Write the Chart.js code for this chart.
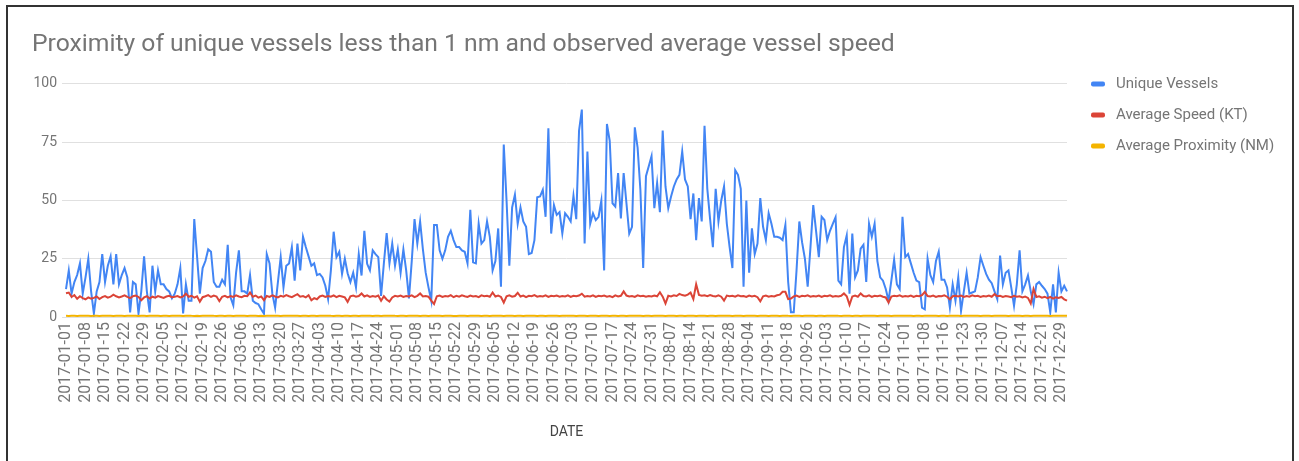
<!DOCTYPE html>
<html>
<head>
<meta charset="utf-8">
<script src="https://cdn.jsdelivr.net/npm/chart.js@4.4.0/dist/chart.umd.min.js"></script>
<style>
  html, body { margin: 0; padding: 0; background: #fff; }
  #wrap { position: relative; width: 1299px; height: 461px; overflow: hidden; }
  #frame { position: absolute; left: 6px; top: 5px; width: 1288px; height: 520px; border: 2px solid #333; box-sizing: border-box; }
  #grafico { position: absolute; left: 0; top: 0; }
</style>
</head>
<body>
<div id="wrap">
  <div id="frame"></div>
  <canvas id="grafico" width="1299" height="461"></canvas>
</div>
<script>
const titulo = "Proximity of unique vessels less than 1 nm and observed average vessel speed";
const nombresSeries = ["Unique Vessels", "Average Speed (KT)", "Average Proximity (NM)"];
const coloresSeries = ["#4285f4", "#db4437", "#f4b400"];

// Dias sin registro en el archivo original
const fechasFaltantes = ["2017-03-02", "2017-09-22", "2017-10-28", "2017-11-12", "2017-12-25"];
const yTicks = [0, 25, 50, 75, 100];

const uniqueVessels = [
  12, 20, 10, 15, 18, 23, 10, 17, 25, 11,
  1.5, 11, 15, 27, 15, 22, 26, 14, 27, 14,
  18, 21, 17, 2, 15, 14, 1.5, 11, 26, 11,
  2, 22, 11, 20, 14, 14, 12, 11, 8, 10,
  14, 21, 1.5, 14, 7, 7, 42, 26, 10, 21,
  24, 29, 28, 15, 13, 13, 16, 14, 31, 8.4,
  5, 19, 28.6, 11, 11, 10, 18, 7, 6, 5.5,
  3.3, 1.4, 27, 23, 10, 4, 15, 25.7, 12.7, 22,
  23, 30, 15.6, 31.5, 20, 34.4, 30, 26, 22, 23,
  18, 18.5, 17, 13.4, 7.7, 20, 36.6, 25.7, 28, 18.5,
  25, 18.8, 15, 19, 12.7, 27, 17.8, 37, 22.8, 20,
  28.6, 27, 25.7, 9, 23, 36, 23, 31.5, 22, 29,
  19, 29, 20, 8, 24, 42, 31.5, 41, 29, 19,
  12.7, 7, 39.5, 39.5, 28.6, 25, 28.6, 34.4, 37, 33,
  30, 30, 28.6, 28, 23, 46, 23.5, 23, 40, 31.5,
  33, 41, 34.4, 20, 24, 38, 13, 74, 50, 22,
  47, 52.5, 40, 47, 41, 38.7, 27, 27.5, 33, 51.4,
  51.7, 54.6, 43, 81, 35.8, 48, 43.8, 45, 35.8, 44.5,
  43, 41, 52, 42, 80, 89, 31.5, 71, 40, 44.5,
  41.6, 43, 50, 20, 82.8, 75.6, 48.8, 47.4, 61.8, 42.3,
  61.8, 48.8, 35.8, 38.7, 81.4, 72.7, 54.6, 21, 60.4, 64.7,
  69, 46.7, 57.5, 45, 80, 56, 46.7, 51.7, 56, 59,
  61, 71, 59, 56, 42, 53, 33, 51, 41, 82,
  55, 42, 30, 55, 41, 50, 56, 40, 30, 21,
  63, 61, 55, 13, 50, 19, 38, 27, 31.5, 51,
  38.7, 33, 44.5, 40, 34.4, 34.4, 34, 33, 39.5, 15,
  2, 2, 20, 41, 32, 25, 13, 30, 48, 37,
  25.7, 43, 41.6, 33, 37, 40, 42.8, 15.6, 14, 30,
  35, 10, 35.8, 17, 20, 29.3, 31, 15, 40, 34.4,
  40, 24, 17, 15.6, 12, 7, 15.6, 24.6, 14, 12,
  43, 25.7, 27, 23, 19, 15.6, 15, 4, 3.3, 25,
  18, 15, 24, 28, 16, 16, 12.7, 4, 14, 7,
  17, 2.6, 11, 19, 10, 10.5, 11, 17, 25.7, 22,
  18.5, 16, 14.5, 11, 7.7, 26.4, 14, 19, 20, 12.7,
  4.8, 14, 28.6, 11, 14, 17.8, 11, 5.5, 14, 15,
  13.4, 12, 10, 2, 14, 2, 19, 11, 13.4, 11
];

const avgSpeed = [
  10.2, 10.5, 8.6, 9.4, 7.8, 8.9, 8.1, 7.6, 8.4, 7.9,
  8.2, 8.8, 7.7, 8.5, 9.0, 8.3, 8.7, 9.6, 8.9, 8.4,
  8.8, 9.3, 8.6, 8.1, 8.9, 9.2, 8.6, 7.2, 8.4, 8.9,
  7.9, 8.7, 8.3, 9.0, 8.6, 8.2, 8.8, 9.1, 8.5, 8.7,
  9.0, 8.4, 8.8, 10.0, 8.7, 9.1, 8.3, 8.9, 6.6, 8.5,
  8.9, 9.4, 8.6, 9.2, 8.8, 6.8, 8.7, 9.1, 8.4, 9.0,
  8.6, 9.3, 8.8, 8.5, 9.1, 8.9, 10.5, 8.7, 9.2, 8.3,
  8.8, 7.2, 9.0, 8.6, 9.3, 8.8, 8.4, 9.1, 8.7, 9.4,
  8.9, 8.5, 9.2, 9.8, 8.7, 9.0, 8.4, 9.3, 7.2, 8.1,
  7.6, 8.8, 9.2, 8.6, 9.0, 8.7, 9.3, 8.5, 9.1, 8.8,
  8.4, 6.5, 8.9, 9.2, 8.7, 9.0, 10.1, 8.8, 9.3, 8.6,
  9.0, 8.7, 9.2, 7.0, 8.9, 7.5, 6.6, 8.4, 9.1, 8.8,
  9.2, 8.6, 9.0, 8.8, 9.3, 8.5, 9.1, 10.1, 8.8, 9.0,
  8.7, 7.0, 5.6, 8.9, 9.2, 8.6, 9.0, 8.8, 9.4, 8.5,
  9.1, 8.7, 9.3, 8.9, 8.6, 9.2, 8.8, 9.0, 8.5, 9.3,
  8.9, 9.1, 8.7, 10.5, 8.8, 9.2, 8.6, 6.2, 8.9, 9.3,
  8.7, 9.0, 10.4, 8.8, 9.2, 8.5, 9.1, 8.9, 9.4, 8.7,
  9.0, 8.8, 9.3, 8.6, 9.1, 8.9, 9.2, 8.7, 9.0, 8.8,
  9.3, 8.6, 9.1, 8.9, 9.2, 10.0, 8.7, 9.0, 8.8, 9.3,
  8.6, 9.1, 8.9, 9.2, 8.7, 9.0, 8.5, 9.3, 8.8, 9.1,
  11.0, 9.2, 8.8, 9.0, 8.6, 9.3, 8.9, 9.1, 8.7, 9.0,
  8.8, 9.2, 8.9, 10.6, 8.7, 5.8, 9.1, 8.8, 9.3, 9.0,
  9.9, 9.4, 9.1, 9.6, 10.5, 7.7, 14.0, 9.5, 9.1, 9.3,
  8.9, 9.4, 9.0, 8.8, 9.3, 8.7, 7.0, 9.2, 8.9, 9.1,
  8.7, 9.3, 8.9, 9.0, 8.6, 9.2, 8.8, 9.1, 8.5, 6.7,
  8.9, 9.2, 8.7, 9.0, 8.8, 9.3, 9.6, 10.8, 10.8, 7.7,
  7.9, 8.8, 9.2, 8.6, 9.1, 8.9, 9.3, 8.7, 9.0, 8.8,
  9.2, 8.6, 9.1, 8.9, 9.3, 8.7, 9.0, 8.8, 9.1, 10.1,
  8.9, 5.2, 8.8, 9.2, 8.7, 10.1, 9.0, 8.8, 9.3, 8.6,
  9.1, 8.9, 9.2, 8.7, 8.4, 6.2, 8.8, 9.1, 8.9, 9.3,
  8.7, 9.0, 8.8, 9.2, 8.6, 9.1, 8.9, 9.4, 10.8, 9.0,
  8.8, 9.2, 8.6, 9.0, 8.9, 9.3, 8.7, 7.6, 8.9, 9.1,
  8.8, 9.2, 8.6, 9.0, 8.7, 9.3, 8.9, 9.1, 8.6, 9.0,
  8.8, 9.2, 8.7, 9.8, 8.9, 9.1, 8.6, 9.0, 8.8, 8.5,
  9.1, 8.7, 8.9, 8.4, 8.8, 8.2, 5.8, 12.0, 8.6, 8.9,
  8.3, 8.7, 8.1, 8.6, 7.9, 8.5, 8.2, 8.6, 7.6, 7.0
];

const avgProximity = [
  0.52, 0.48, 0.55, 0.50, 0.46, 0.53, 0.58, 0.49, 0.51, 0.47, 0.54, 0.50, 0.45, 0.52, 0.56, 0.49, 0.53, 0.48, 0.51, 0.55,
  0.50, 0.47, 0.53, 0.49, 0.52, 0.56, 0.48, 0.51, 0.54, 0.46, 0.50, 0.53, 0.49, 0.55, 0.47, 0.52, 0.50, 0.48, 0.54, 0.51,
  0.49, 0.53, 0.46, 0.52, 0.55, 0.50, 0.48, 0.51, 0.47, 0.54, 0.52, 0.49, 0.56, 0.50, 0.48, 0.53, 0.51, 0.46, 0.52, 0.55,
  0.48, 0.51, 0.54, 0.49, 0.52, 0.47, 0.53, 0.50, 0.55, 0.48, 0.51, 0.46, 0.52, 0.54, 0.49, 0.50, 0.53, 0.47, 0.51, 0.56,
  0.53, 0.49, 0.51, 0.55, 0.47, 0.52, 0.50, 0.48, 0.54, 0.51, 0.46, 0.53, 0.49, 0.52, 0.57, 0.50, 0.48, 0.51, 0.53, 0.47,
  0.51, 0.54, 0.48, 0.50, 0.53, 0.46, 0.52, 0.55, 0.49, 0.51, 0.47, 0.53, 0.50, 0.48, 0.54, 0.52, 0.49, 0.56, 0.50, 0.47,
  0.55, 0.50, 0.47, 0.52, 0.49, 0.53, 0.51, 0.46, 0.54, 0.50, 0.48, 0.52, 0.55, 0.49, 0.51, 0.47, 0.53, 0.50, 0.52, 0.48,
  0.47, 0.52, 0.50, 0.54, 0.48, 0.51, 0.55, 0.49, 0.53, 0.46, 0.52, 0.50, 0.48, 0.54, 0.51, 0.49, 0.53, 0.47, 0.55, 0.50,
  0.52, 0.48, 0.53, 0.50, 0.46, 0.54, 0.49, 0.51, 0.56, 0.48, 0.50, 0.53, 0.47, 0.52, 0.49, 0.55, 0.51, 0.48, 0.53, 0.50,
  0.49, 0.54, 0.51, 0.47, 0.52, 0.50, 0.55, 0.48, 0.53, 0.49, 0.51, 0.46, 0.54, 0.50, 0.52, 0.48, 0.53, 0.51, 0.47, 0.55,
  0.51, 0.47, 0.53, 0.50, 0.55, 0.49, 0.52, 0.48, 0.54, 0.50, 0.46, 0.53, 0.51, 0.49, 0.56, 0.48, 0.52, 0.50, 0.54, 0.47,
  0.50, 0.53, 0.48, 0.52, 0.49, 0.55, 0.47, 0.51, 0.53, 0.50, 0.48, 0.54, 0.52, 0.46, 0.51, 0.49, 0.55, 0.50, 0.53, 0.48,
  0.54, 0.49, 0.52, 0.47, 0.51, 0.53, 0.50, 0.56, 0.48, 0.52, 0.49, 0.51, 0.47, 0.54, 0.50, 0.53, 0.48, 0.52, 0.55, 0.49,
  0.48, 0.52, 0.55, 0.50, 0.47, 0.53, 0.49, 0.51, 0.54, 0.48, 0.52, 0.50, 0.46, 0.53, 0.51, 0.49, 0.55, 0.50, 0.48, 0.52,
  0.53, 0.50, 0.48, 0.54, 0.51, 0.47, 0.52, 0.49, 0.55, 0.50, 0.53, 0.48, 0.51, 0.56, 0.49, 0.52, 0.47, 0.50, 0.54, 0.51,
  0.50, 0.55, 0.49, 0.52, 0.48, 0.51, 0.53, 0.47, 0.50, 0.54, 0.49, 0.52, 0.55, 0.48, 0.51, 0.50, 0.46, 0.53, 0.49, 0.52,
  0.52, 0.48, 0.51, 0.53, 0.50, 0.56, 0.49, 0.52, 0.47, 0.51, 0.54, 0.50, 0.48, 0.53, 0.49, 0.52, 0.50, 0.55, 0.47, 0.51,
  0.49, 0.53, 0.50, 0.47, 0.54, 0.51, 0.48, 0.52, 0.50, 0.55, 0.49, 0.51, 0.53, 0.48, 0.52, 0.50, 0.54, 0.49, 0.51, 0.50
];

// Genera las fechas diarias de 2017 quitando los dias faltantes
const fechas = [];
for (let d = new Date(Date.UTC(2017, 0, 1)); d.getUTCFullYear() === 2017; d.setUTCDate(d.getUTCDate() + 1)) {
    const f = d.toISOString().slice(0, 10);
    if (!fechasFaltantes.includes(f)) fechas.push(f);
}

Chart.defaults.font.family = "Roboto";

// Leyenda a la derecha, dibujada a mano para ubicarla como en el original
const leyendaLateral = {
    id: "leyendaLateral",
    afterDraw(chart) {
        const ctx = chart.ctx;
        ctx.save();
        ctx.font = "15px Roboto";
        ctx.textBaseline = "middle";
        chart.data.datasets.forEach((ds, i) => {
            const y = 84 + i * 31;
            ctx.fillStyle = ds.borderColor;
            ctx.beginPath();
            ctx.roundRect(1091, y - 2.5, 14, 5, 2);
            ctx.fill();
            ctx.fillStyle = "#757575";
            ctx.fillText(ds.label, 1116, y);
        });
        ctx.restore();
    }
};

const series = [uniqueVessels, avgSpeed, avgProximity];

const ctx = document.getElementById("grafico").getContext("2d");
const grafico = new Chart(ctx, {
    type: "line",
    data: {
        labels: fechas,
        datasets: series.map((datos, i) => ({
            label: nombresSeries[i],
            data: datos,
            borderColor: coloresSeries[i],
            backgroundColor: coloresSeries[i],
            borderWidth: 2,
            pointRadius: 0,
            tension: 0,
            order: 2 - i
        }))
    },
    options: {
        responsive: false,
        animation: false,
        layout: { padding: { left: 32, right: 232, top: 12, bottom: 0 } },
        plugins: {
            legend: { display: false },
            tooltip: { enabled: false },
            title: {
                display: true,
                text: titulo,
                align: "start",
                color: "#757575",
                font: { family: "Roboto", size: 24.7, weight: "normal" },
                padding: { top: 18, bottom: 24.3 }
            }
        },
        scales: {
            x: {
                grid: { display: false, drawTicks: false },
                border: { display: false },
                ticks: {
                    autoSkip: false,
                    minRotation: 90,
                    maxRotation: 90,
                    padding: 5,
                    color: "#757575",
                    font: { size: 16 },
                    callback: function (v, i) { return i % 7 === 0 ? this.getLabelForValue(v) : ""; }
                },
                title: {
                    display: true,
                    text: "DATE",
                    color: "#444",
                    font: { size: 14 },
                    padding: { top: 0, bottom: 20 }
                },
                afterFit: (s) => { s.height = 144; }
            },
            y: {
                min: 0,
                max: 100,
                grid: { color: "#e0e0e0", drawTicks: true, tickLength: 4 },
                border: { display: false },
                afterBuildTicks: (s) => { s.ticks = yTicks.map(v => ({ value: v })); },
                ticks: { padding: 5, color: "#757575", font: { size: 14 } },
                afterFit: (s) => { s.width = 34; }
            }
        }
    },
    plugins: [leyendaLateral]
});
</script>
</body>
</html>
